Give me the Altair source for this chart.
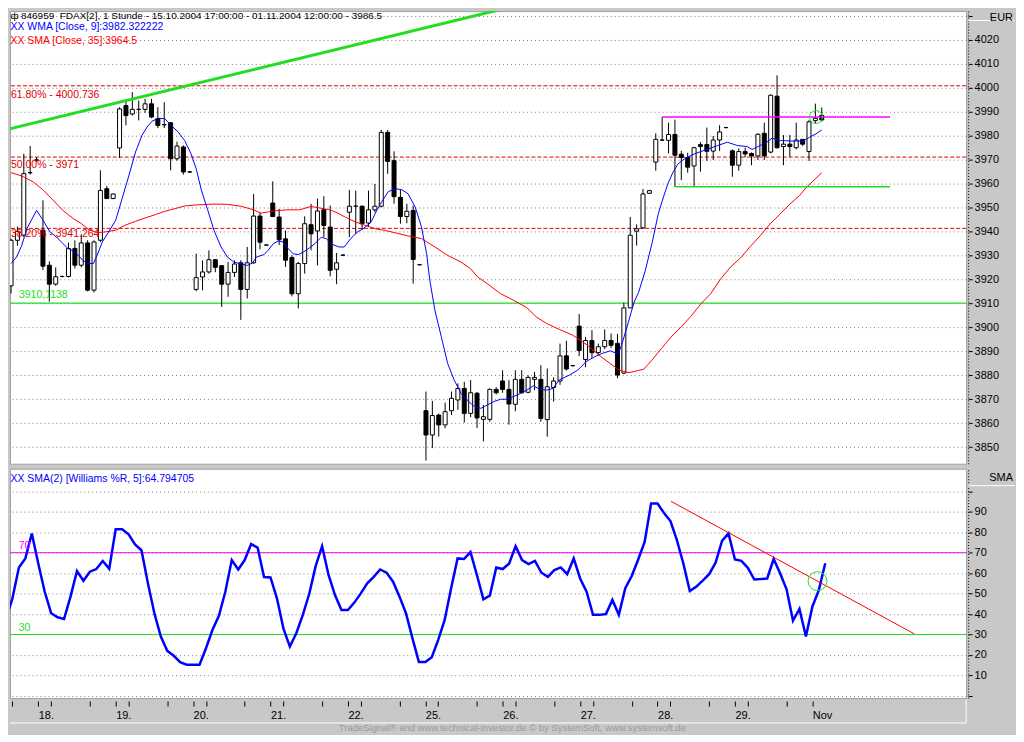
import altair as alt
import pandas as pd

FONT = "Liberation Sans"
BG = "#c8c8c8"

# ---------------- data (bar index 0 = 15.10.2004 17:00, hourly bars) ----------------
opens = [3917.3, 3936.3, 3938.4, 3964.5, 3969.8, 3940.5, 3925.9, 3918.0, 3921.2, 3921.2,
         3932.9, 3925.9, 3935.2, 3915.5, 3936.3, 3957.8, 3953.7, 3974.8, 3992.5, 3989.0,
         3990.9, 3990.9, 3993.2, 3987.0, 3984.5, 3985.3, 3970.3, 3975.2, 3964.8, 3915.8,
         3921.0, 3923.1, 3928.2, 3925.7, 3918.0, 3922.9, 3926.9, 3915.8, 3926.9, 3946.4,
         3934.3, 3951.8, 3946.0, 3936.9, 3929.1, 3914.0, 3926.6, 3942.8, 3940.2, 3949.0,
         3941.8, 3924.2, 3930.1, 3948.0, 3950.5, 3950.5, 3943.5, 3949.0, 3950.5, 3981.3,
         3969.5, 3954.2, 3946.2, 3948.7, 3926.1, 3865.2, 3855.1, 3863.4, 3859.3, 3865.2,
         3869.7, 3874.5, 3864.1, 3872.5, 3861.6, 3861.6, 3874.1, 3877.6, 3874.1, 3867.9,
         3878.3, 3872.9, 3878.3, 3878.3, 3861.5, 3874.9, 3877.6, 3888.1, 3884.0, 3900.5,
         3886.6, 3894.5, 3889.5, 3891.9, 3894.5, 3893.3, 3880.9, 3908.1, 3940.1, 3941.5,
         3955.9, 3968.9, 3978.1, 3978.0, 3980.4, 3972.2, 3970.8, 3967.3, 3976.2, 3976.2,
         3973.5, 3978.1, 3983.3, 3973.6, 3967.6, 3973.3, 3972.5, 3971.5, 3980.9, 3973.1,
         3996.4, 3975.4, 3976.4, 3974.9, 3978.4, 3973.3, 3986.2, 3988.4]
highs = [3937.0, 3942.0, 3972.4, 3975.6, 3971.0, 3953.0, 3927.5, 3925.0, 3921.6, 3935.4,
         3936.3, 3938.8, 3936.3, 3936.3, 3965.5, 3959.0, 3955.8, 3991.8, 3994.6, 3998.1,
         3994.6, 3995.3, 3995.3, 3991.8, 3993.9, 3985.5, 3977.5, 3975.9, 3965.2, 3930.7,
         3927.9, 3932.1, 3928.5, 3926.0, 3927.2, 3927.9, 3928.0, 3933.5, 3955.6, 3948.0,
         3934.6, 3960.9, 3949.4, 3940.4, 3930.0, 3927.3, 3946.3, 3951.5, 3953.7, 3954.7,
         3950.8, 3931.0, 3930.4, 3957.3, 3957.0, 3950.8, 3957.0, 3959.8, 3982.3, 3982.3,
         3973.4, 3957.3, 3951.5, 3950.8, 3926.4, 3873.2, 3869.3, 3864.0, 3868.6, 3873.2,
         3876.6, 3877.3, 3878.0, 3873.0, 3867.6, 3874.5, 3875.0, 3882.1, 3878.0, 3882.1,
         3882.1, 3880.0, 3881.4, 3884.2, 3882.8, 3879.1, 3893.2, 3894.4, 3884.3, 3905.5,
         3896.0, 3898.8, 3893.2, 3899.1, 3897.4, 3897.2, 3910.3, 3946.0, 3942.9, 3957.7,
         3957.3, 3980.9, 3987.7, 3985.3, 3986.6, 3973.6, 3972.8, 3975.3, 3977.3, 3983.3,
         3979.8, 3984.3, 3983.6, 3974.2, 3974.6, 3974.9, 3973.0, 3980.9, 3985.3, 3997.1,
         4005.1, 3980.2, 3980.2, 3985.3, 3978.5, 3986.4, 3993.3, 3991.7]
lows = [3914.1, 3934.0, 3937.7, 3963.7, 3969.0, 3923.9, 3910.7, 3917.3, 3920.8, 3920.8,
        3924.5, 3925.0, 3915.0, 3914.5, 3935.6, 3953.7, 3953.5, 3970.6, 3984.2, 3988.3,
        3986.3, 3989.5, 3987.2, 3983.1, 3983.1, 3965.5, 3969.5, 3963.7, 3964.4, 3915.0,
        3915.4, 3922.4, 3923.0, 3908.5, 3912.7, 3921.0, 3903.1, 3912.0, 3926.5, 3932.5,
        3934.0, 3946.0, 3934.3, 3925.2, 3912.9, 3907.9, 3922.4, 3932.1, 3925.8, 3937.6,
        3921.3, 3918.0, 3929.8, 3937.6, 3939.0, 3940.8, 3941.8, 3948.0, 3950.0, 3964.0,
        3951.5, 3943.2, 3943.4, 3918.2, 3925.8, 3844.4, 3849.6, 3854.4, 3857.9, 3863.4,
        3865.6, 3860.3, 3862.5, 3858.0, 3852.4, 3860.6, 3872.0, 3872.7, 3859.4, 3865.0,
        3872.4, 3872.5, 3873.8, 3860.6, 3854.4, 3869.0, 3876.0, 3882.0, 3883.7, 3888.0,
        3883.4, 3887.2, 3888.6, 3890.9, 3891.4, 3878.8, 3880.5, 3908.0, 3934.1, 3941.0,
        3955.6, 3965.3, 3977.7, 3972.5, 3958.6, 3961.4, 3964.5, 3958.9, 3964.9, 3969.4,
        3969.8, 3973.5, 3983.0, 3962.8, 3965.3, 3971.0, 3967.6, 3969.8, 3969.8, 3972.5,
        3974.6, 3967.6, 3971.1, 3974.2, 3975.7, 3969.4, 3985.0, 3985.8]
closes = [3936.3, 3940.0, 3964.1, 3964.5, 3969.8, 3925.5, 3918.0, 3921.1, 3921.2, 3932.9,
          3925.9, 3935.2, 3915.5, 3935.6, 3957.1, 3953.7, 3955.6, 3991.1, 3988.3, 3990.9,
          3990.9, 3993.2, 3987.7, 3984.2, 3984.5, 3970.3, 3975.6, 3964.8, 3964.8, 3920.7,
          3923.1, 3928.2, 3925.0, 3918.0, 3922.9, 3926.4, 3915.8, 3926.9, 3946.4, 3935.5,
          3934.3, 3946.2, 3936.5, 3928.0, 3914.0, 3926.6, 3943.2, 3939.0, 3948.5, 3942.5,
          3923.8, 3926.9, 3930.1, 3950.5, 3950.5, 3943.2, 3949.0, 3950.5, 3981.3, 3969.2,
          3954.5, 3946.2, 3948.4, 3928.3, 3926.1, 3855.1, 3863.2, 3859.3, 3864.8, 3870.4,
          3874.5, 3864.1, 3872.7, 3862.2, 3862.7, 3874.1, 3872.7, 3874.1, 3868.0, 3878.3,
          3872.7, 3879.1, 3879.1, 3862.0, 3875.2, 3877.6, 3888.1, 3882.6, 3884.0, 3890.3,
          3894.5, 3889.4, 3891.9, 3894.5, 3892.5, 3880.1, 3908.1, 3938.4, 3941.1, 3955.6,
          3957.0, 3978.4, 3978.1, 3980.4, 3971.8, 3970.8, 3966.8, 3974.9, 3975.4, 3973.4,
          3978.1, 3981.5, 3983.3, 3967.6, 3973.3, 3972.3, 3971.5, 3980.5, 3971.5, 3996.8,
          3974.9, 3976.4, 3975.4, 3978.1, 3976.4, 3985.7, 3987.2, 3986.5]

# WMA [Close, 9] line (bar position, price)
wma_i = [0, 0.9, 1.7, 2.5, 4.0, 5.0, 6.1, 7.1, 8.1, 8.9, 9.7, 10.5, 11.2, 12.0, 12.9, 13.5,
         14.3, 15.3, 16.4, 17.4, 18.4, 19.5, 20.5, 21.3, 22.1, 23.1, 24.1, 25.1, 26.2, 27.2,
         28.2, 29.0, 29.8, 30.8, 31.8, 32.9, 33.9, 34.9, 36.0, 37.0, 37.8, 38.5, 39.6, 40.3,
         41.1, 41.9, 42.6, 43.4, 44.2, 45.0, 45.8, 46.8, 47.6, 48.6, 49.4, 50.4, 51.4, 52.2,
         53.2, 54.3, 55.3, 56.4, 57.3, 58.1, 59.1, 60.2, 61.2, 62.2, 63.3, 64.3, 65.1, 65.6,
         66.4, 67.4, 68.4, 69.4, 70.5, 71.5, 72.5, 73.6, 74.6, 75.6, 76.7, 77.7, 78.7, 79.8,
         80.8, 81.8, 82.8, 83.9, 84.9, 85.9, 87.5, 88.8, 90.1, 91.4, 92.6, 93.9, 95.1, 95.7,
         96.8, 97.6, 98.3, 99.3, 100.4, 101.4, 102.2, 102.9, 103.7, 104.5, 105.5, 107.1,
         108.6, 110.7, 112.2, 113.8, 115.3, 116.1, 116.8, 118.4, 119.2, 120.5, 122.5, 124.1,
         125.1, 126.1, 127.0]
wma_v = [3926.6, 3929.4, 3934.3, 3941.2, 3948.8, 3944.7, 3939.8, 3937.7, 3935.0, 3932.9,
         3931.9, 3930.1, 3928.0, 3926.6, 3926.6, 3930.1, 3935.6, 3939.8, 3944.7, 3953.7,
         3962.7, 3973.1, 3980.0, 3983.5, 3986.0, 3987.2, 3987.0, 3984.2, 3981.4, 3977.9,
         3972.4, 3966.2, 3957.4, 3949.0, 3940.4, 3933.5, 3929.3, 3927.2, 3926.5, 3925.8,
         3926.8, 3929.4, 3930.3, 3932.2, 3934.9, 3936.0, 3935.6, 3932.8, 3930.7, 3930.3,
         3931.4, 3933.2, 3934.9, 3937.6, 3936.9, 3934.5, 3933.5, 3933.5, 3937.0, 3939.8,
         3941.4, 3943.9, 3948.8, 3952.5, 3956.6, 3957.8, 3957.4, 3955.7, 3950.2, 3941.9,
         3930.7, 3919.7, 3907.1, 3896.1, 3884.9, 3878.1, 3872.4, 3869.4, 3867.2, 3866.2,
         3867.6, 3869.0, 3870.0, 3870.0, 3871.1, 3872.4, 3873.8, 3875.6, 3874.2, 3873.8,
         3874.5, 3878.1, 3880.1, 3882.2, 3885.7, 3887.7, 3889.1, 3890.2, 3888.8, 3893.0,
         3903.0, 3910.5, 3914.5, 3923.1, 3934.9, 3947.4, 3954.3, 3959.9, 3964.7, 3968.2,
         3970.3, 3972.4, 3973.8, 3975.8, 3977.2, 3975.8, 3975.4, 3974.2, 3975.1, 3977.2,
         3978.9, 3977.9, 3977.7, 3977.7, 3979.3, 3980.7, 3982.3]

# SMA [Close, 35] line
sma_i = [0, 1.7, 3.5, 5.1, 6.6, 8.1, 9.7, 11.0, 12.3, 13.6, 14.8, 16.4, 17.9, 19.5, 21.0,
         22.6, 24.1, 25.7, 27.2, 28.7, 31.8, 33.9, 36.0, 38.0, 39.1, 41.1, 43.2, 45.2, 47.0,
         48.3, 49.9, 50.9, 52.4, 54.0, 55.5, 57.1, 58.6, 60.2, 62.2, 64.3, 66.4, 68.4, 70.5,
         72.0, 73.1, 74.6, 76.7, 78.7, 80.8, 82.3, 83.9, 85.9, 88.0, 90.1, 92.1, 93.7, 95.3,
         96.8, 98.3, 99.1, 100.4, 101.9, 103.4, 105.0, 106.5, 108.1, 109.6, 111.2, 112.7,
         114.3, 115.8, 117.4, 118.9, 120.5, 122.0, 123.5, 124.6, 125.6, 127.0]
sma_v = [3964.5, 3963.1, 3960.6, 3957.1, 3953.0, 3948.8, 3945.4, 3943.3, 3940.5, 3939.5,
         3939.8, 3940.5, 3942.6, 3944.2, 3945.6, 3947.0, 3948.4, 3949.5, 3950.6, 3951.0,
         3951.4, 3951.3, 3950.5, 3949.0, 3947.6, 3948.5, 3949.0, 3949.0, 3950.4, 3949.8,
         3949.0, 3948.0, 3945.9, 3943.9, 3942.5, 3941.1, 3940.4, 3939.4, 3938.1, 3937.0,
         3933.5, 3930.0, 3927.2, 3924.4, 3921.0, 3918.2, 3914.0, 3911.3, 3908.2, 3904.3,
         3901.6, 3899.1, 3896.7, 3892.9, 3888.4, 3885.2, 3882.1, 3881.1, 3882.0, 3882.5,
         3886.3, 3891.2, 3896.0, 3900.2, 3904.6, 3909.9, 3914.0, 3920.3, 3925.1, 3929.0,
         3933.7, 3938.3, 3943.1, 3947.3, 3951.4, 3954.9, 3958.4, 3960.9, 3964.5]

# SMA(2) of Williams %R(5), one value per bar
willr = [37.4, 47.7, 62.8, 67.2, 79.4, 64.7, 50.9, 40.4, 38.4, 37.6,
         48.5, 61.0, 56.3, 60.7, 62.0, 66.0, 62.1, 81.5, 81.5, 79.0,
         74.0, 71.2, 55.0, 40.4, 29.0, 22.0, 19.6, 16.5, 15.2, 15.2,
         15.2, 23.3, 32.2, 39.1, 50.9, 66.4, 61.8, 66.4, 74.2, 72.5,
         58.1, 57.9, 47.7, 33.0, 24.1, 30.6, 39.5, 49.8, 63.4, 73.2,
         59.1, 49.3, 42.0, 42.0, 45.6, 50.1, 55.0, 58.2, 61.8, 60.2,
         55.8, 48.5, 40.4, 28.2, 16.6, 16.6, 18.9, 27.4, 37.1, 52.6,
         67.2, 66.9, 70.3, 59.1, 47.2, 49.0, 62.8, 62.0, 64.7, 73.2,
         66.4, 64.4, 66.0, 60.2, 58.2, 61.5, 62.8, 59.5, 67.2, 57.4,
         50.9, 39.6, 39.6, 40.0, 46.9, 39.6, 52.6, 58.6, 66.7, 75.3,
         94.0, 94.0, 89.4, 85.5, 76.1, 64.7, 51.3, 53.4, 56.3, 59.5,
         65.1, 75.8, 79.4, 66.7, 66.0, 62.6, 56.9, 57.1, 57.4, 66.9,
         59.9, 52.1, 36.8, 42.5, 29.0, 43.6, 51.7, 64.8]

fib_levels = [4000.736, 3971.0, 3941.264]
fib_labels = ["61.80% - 4000.736", "50.00% - 3971", "38.20% - 3941.264"]
fib_dy = [9, 7.5, 6]
support_level = 3910.1138
support_label = "3910,1138"

trend_i = [-0.62, 82.0]
trend_p = [3982.5, 4036.0]

range_top = 3987.7
range_top_i = [102, 137.7]
range_bot = 3958.6
range_bot_i = [104, 137.7]

wr_trend_i = [103.1, 140.8]
wr_trend_v = [95.1, 30.3]

circle_price_i, circle_price_v = 126.1, 3987.7
circle_wr_i, circle_wr_v = 125.8, 56.1

price_ticks = [3850, 3860, 3870, 3880, 3890, 3900, 3910, 3920, 3930, 3940, 3950, 3960,
               3970, 3980, 3990, 4000, 4010, 4020, 4030]
willr_ticks = [0, 10, 20, 30, 40, 50, 60, 70, 80, 90, 100]

x_ticks = [1, 5, 7, 13, 17, 19, 25, 29, 31, 37, 41, 43, 49, 53, 55, 61, 65, 67, 73, 77, 79,
           85, 89, 91, 97, 101, 103, 109, 113, 115, 121, 125]
day_label_bars = [5, 17, 29, 41, 53, 65, 77, 89, 101, 113, 125]
day_labels = ["18.", "19.", "20.", "21.", "22.", "25.", "26.", "27.", "28.", "29.", "Nov"]

title_text = "846959\u00a0 FDAX[2], 1 Stunde - 15.10.2004 17:00:00 - 01.11.2004 12:00:00 - 3986.5"
wma_text = "XX WMA [Close, 9]:3982.322222"
sma_text = "XX SMA [Close, 35]:3964.5"
wr_text = "XX SMA(2) [Williams %R, 5]:64.794705"
footer_text = "TradeSignal\u00ae and www.technical-investor.de \u00a9 by SystemSoft, www.systemsoft.de"

# ---------------- layout ----------------
W = 959
H_MAIN = 454
H_LOW = 230
XDOM = [0.618, 148.84]
PDOM = [3843.1, 4031.9]
WDOM = [-1.07, 111.07]

xs = alt.Scale(domain=XDOM, nice=False, zero=False)
ps = alt.Scale(domain=PDOM, nice=False, zero=False)
ws = alt.Scale(domain=WDOM, nice=False, zero=False)

price_axis = alt.Axis(orient="right", values=price_ticks,
                      labelExpr="datum.value >= 4030 ? '' : format(datum.value, 'd')",
                      grid=True, gridColor="#808080", gridDash=[1, 3], gridWidth=1,
                      domain=True, domainColor="black", domainDash=[1, 2],
                      ticks=True, tickColor="black", tickSize=4, offset=2, labelPadding=2,
                      labelFont=FONT, labelFontSize=11, labelColor="black", title=None,
                      labelFlush=False, labelOverlap=False)
willr_axis = alt.Axis(orient="right", values=willr_ticks,
                      labelExpr="(datum.value <= 0 || datum.value >= 100) ? '' : format(datum.value, 'd')",
                      grid=True, gridColor="#808080", gridDash=[1, 3], gridWidth=1,
                      domain=True, domainColor="black", domainDash=[1, 2],
                      ticks=True, tickColor="black", tickSize=4, offset=2, labelPadding=2,
                      labelFont=FONT, labelFontSize=11, labelColor="black", title=None,
                      labelFlush=False, labelOverlap=False)
label_expr = "".join(f"datum.value == {b} ? '{l}' : " for b, l in zip(day_label_bars, day_labels)) + "''"
x_axis = alt.Axis(orient="bottom", values=x_ticks, labelExpr=label_expr, grid=False,
                  domain=False, ticks=True, tickColor="black", tickSize=5, offset=3,
                  labelPadding=4, labelAlign="left", labelBaseline="top", labelFont=FONT,
                  labelFontSize=11, labelColor="black", title=None, labelFlush=False,
                  labelOverlap=False)

XM = alt.X("i:Q", scale=xs, axis=None)
XL = alt.X("i:Q", scale=xs, axis=x_axis)


def YP(field):
    return alt.Y(field, scale=ps, axis=price_axis)


def YW(field):
    return alt.Y(field, scale=ws, axis=willr_axis)


def txt(text, x, y, color, size=10.5, align="left", baseline="middle"):
    return alt.Chart(pd.DataFrame({"t": [text]})).mark_text(
        align=align, baseline=baseline, font=FONT, fontSize=size, color=color
    ).encode(x=alt.value(x), y=alt.value(y), text="t:N")


candles = pd.DataFrame({"i": list(range(len(opens))), "open": opens, "high": highs,
                        "low": lows, "close": closes})

# ---------------- main price panel ----------------
fib_df = pd.DataFrame({"p": fib_levels})
fib_rules = alt.Chart(fib_df).mark_rule(color="#e00000", strokeDash=[4, 2], strokeWidth=1).encode(
    y=YP("p:Q"))
sup_rule = alt.Chart(pd.DataFrame({"p": [support_level]})).mark_rule(
    color="#22dd22", strokeWidth=1.2).encode(y=YP("p:Q"))

wicks = alt.Chart(candles).mark_rule(color="black", strokeWidth=1, clip=True).encode(
    x=XM, y=YP("low:Q"), y2="high:Q")
bodies = alt.Chart(candles).mark_bar(size=4, stroke="black", strokeWidth=1, clip=True).encode(
    x=XM, y=YP("open:Q"), y2="close:Q",
    fill=alt.condition("datum.close >= datum.open", alt.value("white"), alt.value("black")))

sma_line = alt.Chart(pd.DataFrame({"i": sma_i, "p": sma_v})).mark_line(
    color="#ff0000", strokeWidth=1, clip=True).encode(x=XM, y=YP("p:Q"))
wma_line = alt.Chart(pd.DataFrame({"i": wma_i, "p": wma_v})).mark_line(
    color="#0000ff", strokeWidth=1, clip=True).encode(x=XM, y=YP("p:Q"))
trend = alt.Chart(pd.DataFrame({"i": trend_i, "p": trend_p})).mark_line(
    color="#22dd22", strokeWidth=3, clip=True).encode(x=XM, y=YP("p:Q"))

rng_df = pd.DataFrame({"i": [range_top_i[0], range_bot_i[0]],
                       "i2": [range_top_i[1], range_bot_i[1]],
                       "p": [range_top, range_bot],
                       "c": ["top", "bot"]})
rng = alt.Chart(rng_df).mark_rule(strokeWidth=1.5, clip=True).encode(
    x=XM, x2="i2:Q", y=YP("p:Q"),
    color=alt.Color("c:N", scale=alt.Scale(domain=["top", "bot"], range=["#ff00ff", "#22dd22"]),
                    legend=None))
circ_p = alt.Chart(pd.DataFrame({"i": [circle_price_i], "p": [circle_price_v]})).mark_point(
    shape="circle", filled=False, size=167, color="#22dd22", strokeWidth=1, opacity=1).encode(
    x=XM, y=YP("p:Q"))

fib_texts = [
    alt.Chart(pd.DataFrame({"p": [lv], "t": [lb]})).mark_text(
        align="left", baseline="middle", font=FONT, fontSize=10.5, color="#e00000", dy=d
    ).encode(x=alt.value(1), y=YP("p:Q"), text="t:N")
    for lv, lb, d in zip(fib_levels, fib_labels, fib_dy)
]
sup_text = alt.Chart(pd.DataFrame({"p": [support_level], "t": [support_label]})).mark_text(
    align="left", baseline="middle", font=FONT, fontSize=10.5, color="#22dd22", dy=-8
).encode(x=alt.value(9), y=YP("p:Q"), text="t:N")

eur_line = alt.Chart(pd.DataFrame({"a": [0]})).mark_rule(color="white", strokeWidth=1).encode(
    x=alt.value(961), x2=alt.value(1007.5), y=alt.value(9.5))

main = alt.layer(
    fib_rules, sup_rule, wicks, bodies, sma_line, wma_line, trend, rng, circ_p,
    *fib_texts, sup_text,
    txt("\u0444", 0.5, 0, "black", size=10, baseline="top"),
    txt(title_text, 11, 0, "black", size=10, baseline="top"),
    txt(wma_text, 0.5, 16, "#0000ff"),
    txt(sma_text, 0.5, 30, "#ff0000"),
    eur_line,
    txt("EUR", 1006, 0.5, "black", size=11, align="right", baseline="top"),
).properties(width=W, height=H_MAIN)

# ---------------- Williams %R panel ----------------
wr_df = pd.DataFrame({"i": list(range(len(willr))), "v": willr})
lvl70 = alt.Chart(pd.DataFrame({"v": [70]})).mark_rule(color="#ff00ff", strokeWidth=1).encode(y=YW("v:Q"))
lvl30 = alt.Chart(pd.DataFrame({"v": [30]})).mark_rule(color="#22dd22", strokeWidth=1).encode(y=YW("v:Q"))
wr_line = alt.Chart(wr_df).mark_line(color="#0000ff", strokeWidth=2.5, clip=True).encode(
    x=XL, y=YW("v:Q"))
wr_trend = alt.Chart(pd.DataFrame({"i": wr_trend_i, "v": wr_trend_v})).mark_line(
    color="#ff0000", strokeWidth=1, clip=True).encode(x=XL, y=YW("v:Q"))
circ_w = alt.Chart(pd.DataFrame({"i": [circle_wr_i], "v": [circle_wr_v]})).mark_point(
    shape="circle", filled=False, size=360, color="#22dd22", strokeWidth=1, opacity=1).encode(
    x=XL, y=YW("v:Q"))
t70 = alt.Chart(pd.DataFrame({"v": [70], "t": ["70"]})).mark_text(
    align="left", baseline="middle", font=FONT, fontSize=10.5, color="#ff00ff", dy=-7
).encode(x=alt.value(8.7), y=YW("v:Q"), text="t:N")
t30 = alt.Chart(pd.DataFrame({"v": [30], "t": ["30"]})).mark_text(
    align="left", baseline="middle", font=FONT, fontSize=10.5, color="#22dd22", dy=-6.6
).encode(x=alt.value(8.7), y=YW("v:Q"), text="t:N")

one = pd.DataFrame({"a": [0]})
sma_box_line = alt.Chart(one).mark_rule(color="white", strokeWidth=1).encode(
    x=alt.value(961), x2=alt.value(1007.5), y=alt.value(17))
band_line_h = alt.Chart(one).mark_rule(color="white", strokeWidth=1).encode(
    x=alt.value(0), x2=alt.value(959), y=alt.value(255))
band_line_v = alt.Chart(one).mark_rule(color="white", strokeWidth=1).encode(
    x=alt.value(959), y=alt.value(232), y2=alt.value(255))
bottom_fill = alt.Chart(one).mark_rect(color=BG).encode(
    x=alt.value(0), x2=alt.value(1007.5), y=alt.value(256), y2=alt.value(264.5))

lower = alt.layer(
    lvl70, lvl30, wr_line, wr_trend, circ_w, t70, t30,
    txt(wr_text, 0.5, 10.7, "#0000ff"),
    sma_box_line,
    txt("SMA", 1006, 9.5, "black", size=11, align="right"),
    band_line_h, band_line_v, bottom_fill,
    txt(footer_text, 504, 260.5, "#9a9a9a", size=9.5, align="center"),
).properties(width=W, height=H_LOW)

chart = alt.vconcat(main, lower, spacing=3).properties(
    padding=0, background=BG
).configure_view(fill="white", stroke="#a0a0a0", strokeWidth=1).configure_concat(spacing=3)

chart.save("out.html", embed_options={"renderer": "svg", "actions": False})
